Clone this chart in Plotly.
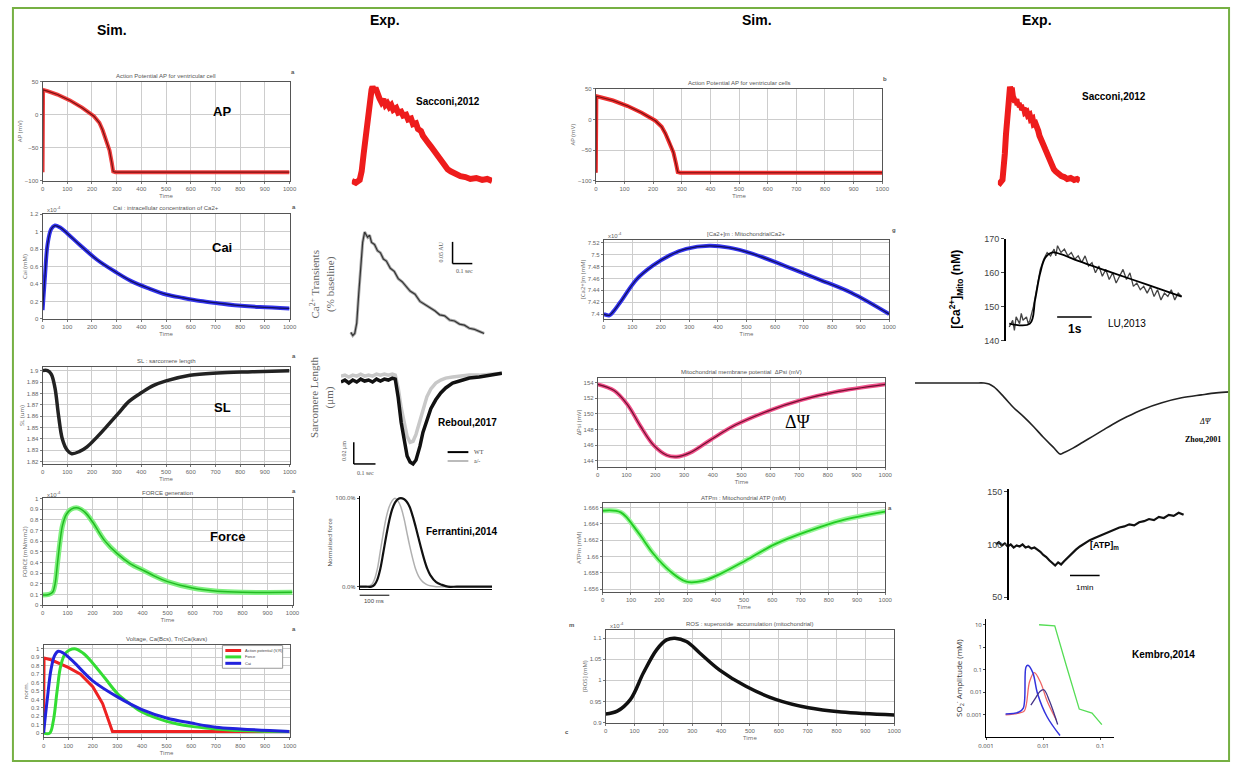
import plotly.graph_objects as go

W, H = 1240, 769

# ---------------- data ----------------
# simulated action potential (mV) vs time (ms)
ap_t = [0, 2, 20, 60, 111, 160, 208, 230, 243, 258, 271, 280, 286, 295, 1000]
ap_v = [-87, 38, 36, 31, 22, 11, -2, -12, -23, -38, -54, -72, -86, -87, -87]

# simulated cytosolic calcium (x1e-4 mM)
cai_t = [0, 10, 20, 35, 50, 70, 100, 150, 222, 300, 361, 430, 500, 570, 639, 710, 778, 880, 1000]
cai_v = [0.10, 0.50, 0.85, 1.03, 1.07, 1.05, 0.98, 0.85, 0.675, 0.53, 0.43, 0.35, 0.28, 0.24, 0.206, 0.18, 0.157, 0.135, 0.12]

# simulated sarcomere length (um)
sl_t = [0, 20, 35, 50, 65, 80, 100, 118, 150, 180, 222, 260, 305, 350, 403, 450, 500, 597, 708, 850, 1000]
sl_v = [1.900, 1.900, 1.897, 1.885, 1.860, 1.840, 1.830, 1.827, 1.829, 1.833, 1.842, 1.851, 1.862, 1.873, 1.881, 1.887, 1.891, 1.896, 1.898, 1.899, 1.900]

# simulated force (normalised units)
force_t = [0, 25, 40, 50, 60, 70, 80, 95, 115, 143, 170, 200, 250, 300, 350, 408, 450, 500, 600, 700, 800, 1000]
force_v = [0.095, 0.10, 0.12, 0.20, 0.40, 0.60, 0.75, 0.85, 0.90, 0.91, 0.87, 0.78, 0.60, 0.48, 0.39, 0.32, 0.27, 0.22, 0.16, 0.13, 0.12, 0.12]

# normalised overlay (voltage, force, Cai)
nv_t = [0, 2, 30, 100, 150, 200, 240, 265, 280, 1000]
nv_v = [0.0, 0.89, 0.87, 0.78, 0.70, 0.55, 0.35, 0.15, 0.02, 0.02]
nf_t = [0, 25, 40, 55, 70, 90, 125, 160, 200, 250, 300, 350, 400, 500, 600, 700, 800, 1000]
nf_v = [0.0, 0.0, 0.15, 0.50, 0.80, 0.95, 1.00, 0.95, 0.83, 0.65, 0.47, 0.35, 0.25, 0.14, 0.08, 0.05, 0.03, 0.02]
nc_t = [0, 15, 30, 45, 60, 80, 120, 200, 300, 400, 500, 600, 700, 800, 1000]
nc_v = [0.0, 0.40, 0.75, 0.92, 0.97, 0.95, 0.85, 0.62, 0.43, 0.28, 0.18, 0.12, 0.07, 0.05, 0.02]
overlay_names = ['Action potential (V,R)', 'Force', 'Cai']

# mitochondrial calcium (x1e-4 mM)
mca_t = [0, 20, 35, 58, 116, 173, 231, 289, 370, 439, 520, 636, 751, 867, 1000]
mca_v = [7.400, 7.398, 7.405, 7.420, 7.459, 7.482, 7.499, 7.510, 7.515, 7.512, 7.502, 7.481, 7.459, 7.436, 7.400]

# mitochondrial membrane potential (mV)
psi_t = [0, 57, 103, 149, 194, 240, 274, 320, 389, 480, 594, 709, 823, 1000]
psi_v = [153.8, 153.0, 151.2, 148.4, 146.0, 144.7, 144.5, 145.0, 146.6, 148.6, 150.4, 151.8, 152.8, 153.8]

# mitochondrial ATP (mM)
atpm_t = [0, 64, 122, 180, 238, 296, 355, 413, 506, 610, 727, 843, 1000]
atpm_v = [1.6656, 1.6654, 1.6631, 1.6603, 1.6582, 1.6569, 1.6570, 1.6578, 1.6595, 1.6615, 1.6631, 1.6644, 1.6655]

# mitochondrial superoxide (x1e-4 mM)
ros_t = [0, 40, 86, 131, 177, 211, 240, 280, 326, 394, 486, 589, 703, 817, 1000]
ros_v = [0.920, 0.927, 0.955, 1.018, 1.073, 1.096, 1.100, 1.092, 1.065, 1.025, 0.986, 0.955, 0.935, 0.925, 0.918]

# experimental: Sacconi 2012 optical AP (normalised)
sac_t = [0, 4, 8, 10, 12, 14, 16, 18, 20, 21, 23, 24, 26, 28, 30, 32, 34, 36, 38, 40, 42, 45, 47, 50, 52, 55, 57, 60,
         62, 65, 67, 70, 72, 75, 77, 80, 82, 85, 87, 90, 92, 95, 97, 100, 105, 110, 115, 120, 126, 132, 137, 142]
sac_v = [0.02, 0.00, 0.03, 0.12, 0.30, 0.50, 0.72, 0.88, 0.97, 1.00, 0.96, 0.99, 0.90, 0.88, 0.84, 0.87, 0.81, 0.83,
         0.79, 0.81, 0.76, 0.78, 0.73, 0.74, 0.70, 0.71, 0.66, 0.67, 0.61, 0.62, 0.56, 0.54, 0.49, 0.46, 0.42, 0.38,
         0.35, 0.30, 0.27, 0.23, 0.20, 0.17, 0.14, 0.12, 0.09, 0.07, 0.06, 0.04, 0.05, 0.03, 0.04, 0.02]

# experimental: Ca2+ transient (normalised)
cat_t = [0, 2, 4, 6, 8, 10, 12, 14, 15, 17, 19, 21, 24, 27, 30, 33, 36, 40, 44, 48, 52, 56, 60, 65, 70, 75, 80, 85, 90, 95,
         100, 105, 110, 115, 120, 125, 130, 135]
cat_v = [0.03, 0.00, 0.02, 0.12, 0.40, 0.70, 0.90, 1.00, 0.98, 0.95, 0.97, 0.90, 0.88, 0.82, 0.80, 0.74, 0.72, 0.65, 0.62,
         0.55, 0.52, 0.47, 0.43, 0.40, 0.33, 0.30, 0.27, 0.24, 0.20, 0.19, 0.15, 0.14, 0.11, 0.10, 0.07, 0.06, 0.04, 0.02]

# experimental: sarcomere length shortening (Reboul 2017)
sle_t = [0, 4, 8, 12, 16, 20, 24, 28, 32, 36, 40, 44, 48, 52, 55, 58, 61, 64, 67, 70, 73, 76, 80, 83, 87, 91, 96, 101,
         106, 113, 120, 130, 140, 150, 163]
sle_wt = [-9, -7, -10, -7, -9, -6, -8, -7, -9, -6, -8, -6, -7, -5, -6, -25, -50, -70, -84, -90, -92, -88, -74, -60, -47,
          -36, -27, -20, -15, -10, -8, -5, -4, -2, 0]
sle_ko = [-3, -2, -4, -2, -3, -1, -3, -2, -3, -1, -2, -1, -2, -1, -2, -15, -35, -52, -64, -70, -69, -62, -48, -35, -24,
          -16, -10, -7, -5, -4, -3, -2, -2, -1, 0]

# experimental: normalised force (Ferrantini 2014)
fer_t = [0, 20, 40, 50, 60, 70, 80, 90, 100, 110, 120, 130, 140, 150, 160, 170, 180, 190, 200, 210, 220, 230, 240, 260,
         280, 300, 330, 360, 400, 450]
fer_wt = [0, 0, 0, 0.02, 0.08, 0.20, 0.38, 0.57, 0.74, 0.87, 0.95, 0.99, 1.00, 0.99, 0.96, 0.90, 0.80, 0.68, 0.55, 0.42,
          0.30, 0.20, 0.13, 0.05, 0.02, 0, 0, 0, 0, 0]
fer_ko = [0, 0, 0.02, 0.08, 0.20, 0.40, 0.60, 0.78, 0.90, 0.97, 1.00, 0.97, 0.90, 0.78, 0.62, 0.46, 0.32, 0.20, 0.12,
          0.07, 0.04, 0.02, 0.01, 0, 0, 0, 0, 0, 0, 0]

# experimental: mitochondrial Ca2+ (Lu 2013), nM vs s
lu_t = [0.0, 0.1, 0.15, 0.2, 0.3, 0.35, 0.4, 0.5, 0.55, 0.6, 0.7, 0.8, 0.9, 1.0, 1.1, 1.2, 1.3, 1.35, 1.4, 1.5, 1.6, 1.7,
        1.8, 1.9, 2.0, 2.1, 2.2, 2.3, 2.4, 2.5, 2.6, 2.7, 2.8, 2.9, 3.0, 3.1, 3.2, 3.3, 3.4, 3.5, 3.6, 3.7, 3.8, 3.9, 4.0,
        4.1, 4.2, 4.3, 4.4, 4.5, 4.6, 4.7, 4.8, 4.9, 5.0]
lu_v = [144, 146, 143, 147, 145, 148, 146, 147, 145, 146, 150, 156, 161, 164, 166, 165, 167, 165, 168, 166, 167, 165, 166,
        164, 165, 163, 165, 162, 163, 160, 162, 159, 161, 158, 160, 157, 159, 161, 158, 160, 156, 157, 155, 156, 154, 156,
        153, 155, 152, 154, 153, 155, 152, 154, 153]
lu_fit_t = [0.0, 0.6, 0.75, 0.9, 1.05, 1.25, 1.5, 2.0, 3.0, 4.0, 5.0]
lu_fit_v = [145, 145, 152, 160, 164.5, 166, 165.5, 163.5, 160, 156.5, 153]

# experimental: membrane potential (Zhou 2001)
zh_t = [0, 30, 60, 70, 75, 80, 90, 100, 110, 120, 130, 140, 147, 150, 160, 170, 180, 190, 200, 215, 230, 250, 270, 290,
        305, 319]
zh_v = [0, 0, 0, 0, -1, -4, -14, -25, -34, -44, -55, -65, -72, -71, -66, -60, -54, -48, -42, -34, -27, -20, -15, -12,
        -10, -9]

# experimental: ATP (% baseline)
atpe_t = [5, 8, 11, 14, 17, 20, 23, 26, 29, 32, 35, 38, 41, 44, 47, 50, 53, 56, 59, 62, 65, 68, 71, 74, 77, 80, 83, 86,
          90, 95, 100, 105, 110, 115, 120, 125, 130, 135, 140, 145, 150, 155, 160, 165, 170, 175, 180, 185, 190, 195]
atpe_v = [100, 102, 99, 101, 98, 100, 97, 99, 98, 100, 97, 98, 96, 97, 95, 93, 90, 88, 85, 82, 80, 83, 81, 84, 87, 90, 93,
          95, 98, 101, 104, 106, 108, 110, 112, 114, 116, 117, 119, 118, 121, 122, 124, 123, 126, 125, 128, 127, 130, 128]

# experimental: superoxide amplitude vs frequency (Kembro 2014), log-log
kg_x = [0.0085, 0.016, 0.026, 0.043, 0.072, 0.107]
kg_y = [10, 9, 0.13, 0.0018, 0.0012, 0.00037]
kb_x = [0.0022, 0.0037, 0.0045, 0.005, 0.0054, 0.0066, 0.008, 0.0118, 0.0198]
kb_y = [0.0011, 0.0013, 0.002, 0.13, 0.16, 0.075, 0.0087, 0.0008, 0.00012]
kr_x = [0.0022, 0.0038, 0.0047, 0.0058, 0.007, 0.009, 0.0118, 0.017]
kr_y = [0.0010, 0.0012, 0.0015, 0.03, 0.075, 0.028, 0.004, 0.0006]
kp_x = [0.0061, 0.0075, 0.0088, 0.0103, 0.013, 0.018]
kp_y = [0.0027, 0.006, 0.011, 0.013, 0.004, 0.00037]

# ---------------- helpers ----------------
fig = go.Figure()
layout = {}
annots = []
shapes = []


def PX(px):
    return px / W


def PY(py):
    return 1 - py / H


def names(n):
    if n == 1:
        return 'xaxis', 'yaxis', 'x', 'y'
    return f'xaxis{n}', f'yaxis{n}', f'x{n}', f'y{n}'


TICKF = dict(size=6, color='#666', family='Liberation Sans')


def text(px, py, s, size=10, bold=True, family='Liberation Sans', color='black', angle=0, anchor='center'):
    if bold:
        s = '<b>' + s + '</b>'
    annots.append(dict(x=PX(px), y=PY(py), xref='paper', yref='paper', text=s, showarrow=False,
                       textangle=angle, xanchor=anchor, yanchor='middle',
                       font=dict(size=size, family=family, color=color)))


def sim_panel(n, box, xr, yr, ydtick, title, ylab, xdtick=100, expo=False):
    x0, y0, x1, y1 = box
    xa, ya, xk, yk = names(n)
    base = dict(showline=True, linecolor='#555', linewidth=1, mirror=True, ticks='outside', ticklen=2,
                tickcolor='#777', tickfont=TICKF, zeroline=False, showgrid=True, gridcolor='#cdcdcd',
                gridwidth=1, fixedrange=True)
    layout[xa] = dict(base, domain=[PX(x0), PX(x1)], range=xr, dtick=xdtick, anchor=yk,
                      title=dict(text='Time', font=dict(size=6, color='#666'), standoff=1))
    yd = dict(base, domain=[PY(y1), PY(y0)], range=yr, dtick=ydtick, anchor=xk)
    if ylab:
        yd['title'] = dict(text=ylab, font=dict(size=6, color='#666'), standoff=1)
    layout[ya] = yd
    text((x0 + x1) / 2, y0 - 6, title, 6, bold=False, color='#555')
    if expo:
        text(x0 + 2, y0 - 5, 'x10<sup>-4</sup>', 6, bold=False, color='#666', anchor='left')


def hidden_panel(n, box, xr, yr):
    x0, y0, x1, y1 = box
    xa, ya, xk, yk = names(n)
    layout[xa] = dict(domain=[PX(x0), PX(x1)], range=xr, visible=False, anchor=yk, fixedrange=True)
    layout[ya] = dict(domain=[PY(y1), PY(y0)], range=yr, visible=False, anchor=xk, fixedrange=True)


def line(n, x, y, color, width, shape='spline', opacity=1.0):
    xa, ya, xk, yk = names(n)
    fig.add_trace(go.Scatter(x=x, y=y, xaxis=xk, yaxis=yk, mode='lines', showlegend=False,
                             opacity=opacity, line=dict(color=color, width=width, shape=shape)))


def seg(x0, y0, x1, y1, color='black', width=1.5):
    shapes.append(dict(type='line', xref='paper', yref='paper', x0=PX(x0), y0=PY(y0), x1=PX(x1), y1=PY(y1),
                       line=dict(color=color, width=width)))


# ---------------- simulated panels ----------------
sim_panel(1, (35, 78, 285, 178), [0, 1000], [-100, 50], 50, 'Action Potential AP for ventricular cell', 'AP (mV)')
line(1, ap_t, ap_v, '#f04040', 4, shape='linear')
line(1, ap_t, ap_v, '#7a1010', 1.2, shape='linear')

sim_panel(2, (35, 212, 285, 318), [0, 1000], [0, 1.2], 0.2, 'Cai : intracellular concentration of Ca2+', 'Cai (mM)', expo=True)
line(2, cai_t, cai_v, '#3333ee', 4)
line(2, cai_t, cai_v, '#101060', 1.2)

sim_panel(3, (35, 367, 285, 465), [0, 1000], [1.818, 1.903], 0.01, 'SL : sarcomere length', 'SL (um)')
line(3, sl_t, sl_v, '#222222', 3.5)

sim_panel(4, (35, 500, 288, 608), [0, 1000], [0.0, 1.0], 0.1, 'FORCE generation', 'FORCE (mN/mm2)', expo=True)
line(4, force_t, force_v, '#7ef07e', 5)
line(4, force_t, force_v, '#22bb22', 1.5)

sim_panel(5, (36, 648, 285, 742), [0, 1000], [-0.05, 1.05], 0.1, 'Voltage, Ca(Bcs), Tn(Ca(kavs)', 'norm.')
line(5, nv_t, nv_v, '#ee2222', 3, shape='linear')
line(5, nf_t, nf_v, '#33dd33', 3)
line(5, nc_t, nc_v, '#2222dd', 3)
# small legend box drawn by hand
shapes.append(dict(type='rect', xref='paper', yref='paper', x0=PX(217), y0=PY(672), x1=PX(278), y1=PY(649),
                   fillcolor='white', line=dict(color='#999', width=1), layer='above'))
for i, (nm, col) in enumerate(zip(overlay_names, ['#ee2222', '#33dd33', '#2222dd'])):
    seg(220, 654 + 6.5 * i, 236, 654 + 6.5 * i, col, 3)
    text(238, 654 + 6.5 * i, nm, 4, bold=False, color='#444', anchor='left')

sim_panel(6, (595, 85, 885, 178), [0, 1000], [-100, 50], 50, 'Action Potential AP for ventricular cells', 'AP (mV)')
line(6, ap_t, ap_v, '#f03030', 4, shape='linear')
line(6, ap_t, ap_v, '#7a1010', 1.2, shape='linear')

sim_panel(7, (603, 238, 892, 318), [0, 1000], [7.392, 7.525], 0.02, '[Ca2+]m : MitochondrialCa2+', '[Ca2+]m (mM)', expo=True)
line(7, mca_t, mca_v, '#3333ee', 4)
line(7, mca_t, mca_v, '#101060', 1.2)

sim_panel(8, (597, 378, 888, 468), [0, 1000], [143.2, 154.6], 2, 'Mitochondrial membrane potential  \u0394Psi (mV)', '\u0394Psi (mV)')
line(8, psi_t, psi_v, '#f0508a', 4)
line(8, psi_t, psi_v, '#701030', 1.2)

sim_panel(9, (602, 505, 888, 595), [0, 1000], [1.6556, 1.6665], 0.002, 'ATPm : Mitochondrial ATP (mM)', 'ATPm (mM)')
line(9, atpm_t, atpm_v, '#9af59a', 5)
line(9, atpm_t, atpm_v, '#22cc22', 1.8)

sim_panel(10, (605, 633, 897, 727), [0, 1000], [0.9, 1.12], 0.05, 'ROS : superoxide  accumulation (mitochondrial)', '[ROS] (mM)', expo=True)
line(10, ros_t, ros_v, '#111111', 3.5)

# ---------------- experimental panels ----------------
hidden_panel(11, (348, 78, 490, 185), [0, 142], [-0.05, 1.05])
line(11, sac_t, sac_v, '#ee1c1c', 6, shape='linear')

hidden_panel(12, (345, 228, 485, 338), [-2, 138], [-0.03, 1.02])
line(12, cat_t, cat_v, '#aaaaaa', 3, shape='linear')
line(12, cat_t, cat_v, '#333333', 1.2, shape='linear')

hidden_panel(13, (337, 365, 500, 470), [0, 163], [-97, 8])
line(13, sle_t, sle_ko, '#c8c8c8', 3.5, shape='linear')
line(13, sle_t, sle_wt, '#111111', 3.5, shape='linear')

xa, ya, xk, yk = names(14)
layout[xa] = dict(domain=[PX(356), PX(490)], range=[0, 450], anchor=yk, showline=True, linecolor='black',
                  linewidth=1, showticklabels=False, ticks='', showgrid=False, zeroline=False, fixedrange=True)
layout[ya] = dict(domain=[PY(592), PY(497)], range=[-0.03, 1.03], anchor=xk, showline=True, linecolor='black',
                  linewidth=1, tickvals=[0, 1], ticktext=['0.0%', '100.0%'], ticks='outside', ticklen=2,
                  tickfont=dict(size=6, color='#444'), showgrid=False, zeroline=False, fixedrange=True,
                  title=dict(text='Normalised force', font=dict(size=6, color='#444'), standoff=2))
line(14, fer_t, fer_ko, '#b0b0b0', 1.5)
line(14, fer_t, fer_wt, '#111111', 2.2)

hidden_panel(15, (1002, 78, 1085, 185), [0, 142], [-0.05, 1.05])
line(15, sac_t, sac_v, '#ee1c1c', 6, shape='linear')

xa, ya, xk, yk = names(16)
layout[xa] = dict(domain=[PX(1010), PX(1195)], range=[-0.1, 5.2], anchor=yk, visible=False, fixedrange=True)
layout[ya] = dict(domain=[PY(340), PY(237)], range=[140, 170], anchor=xk, showline=True, linecolor='black',
                  linewidth=1.5, tickvals=[140, 150, 160, 170], ticks='outside', ticklen=3,
                  tickfont=dict(size=9, color='#444', family='Liberation Sans'), showgrid=False, zeroline=False,
                  fixedrange=True)
line(16, lu_t, lu_v, '#444444', 1.3, shape='linear')
line(16, lu_fit_t, lu_fit_v, '#000000', 1.8)

hidden_panel(17, (918, 375, 1237, 460), [0, 319], [-77, 8])
line(17, zh_t, zh_v, '#222222', 1.6)

xa, ya, xk, yk = names(18)
layout[xa] = dict(domain=[PX(995), PX(1195)], range=[0, 200], anchor=yk, visible=False, fixedrange=True)
layout[ya] = dict(domain=[PY(603), PY(490)], range=[47.2, 152.8], anchor='free', position=PX(1012),
                  showline=True, linecolor='black', linewidth=1.5, tickvals=[50, 100, 150], ticks='outside',
                  ticklen=3, tickfont=dict(size=9, color='#444', family='Liberation Sans'), showgrid=False,
                  zeroline=False, fixedrange=True)
line(18, atpe_t, atpe_v, '#111111', 2.2, shape='linear')

xa, ya, xk, yk = names(19)
layout[xa] = dict(domain=[PX(990), PX(1120)], type='log', range=[-3.0, -0.75], anchor=yk, showline=True,
                  linecolor='black', linewidth=1, tickvals=[0.001, 0.01, 0.1], ticktext=['0.001', '0.01', '0.1'],
                  ticks='outside', ticklen=2, tickfont=dict(size=6, color='#444'), showgrid=False, zeroline=False,
                  fixedrange=True)
layout[ya] = dict(domain=[PY(742), PY(622)], type='log', range=[-4.0, 1.26], anchor=xk, showline=True,
                  linecolor='black', linewidth=1, tickvals=[0.001, 0.01, 0.1, 1, 10],
                  ticktext=['0.001', '0.01', '0.1', '1', '10'], ticks='outside', ticklen=2,
                  tickfont=dict(size=6, color='#444'), showgrid=False, zeroline=False, fixedrange=True,
                  title=dict(text='SO<sub>2</sub><sup>-</sup> Amplitude (mM)', font=dict(size=8, color='#333'),
                             standoff=2))
line(19, kg_x, kg_y, '#55dd55', 1.3, shape='linear')
line(19, kr_x, kr_y, '#ee6666', 1.3)
line(19, kb_x, kb_y, '#3333dd', 1.5)
line(19, kp_x, kp_y, '#443388', 1.3)

# ---------------- texts ----------------
text(105, 25, 'Sim.', 14)
text(382, 15, 'Exp.', 14)
text(758, 15, 'Sim.', 14)
text(1042, 15, 'Exp.', 14)

text(217, 108, 'AP', 13)
text(217, 246, 'Cai', 13)
text(217, 408, 'SL', 13)
text(222, 538, 'Force', 13)
text(288, 68, 'a', 6, color='#555')
text(289, 205, 'a', 6, color='#555')
text(289, 356, 'a', 6, color='#555')
text(289, 492, 'a', 6, color='#555')
text(289, 632, 'a', 6, color='#555')
text(888, 75, 'b', 6, color='#555')
text(897, 228, 'g', 6, color='#555')
text(893, 510, 'a', 6, color='#555')
text(570, 628, 'm', 6, color='#555')
text(566, 737, 'c', 6, color='#555')

text(445, 98, 'Sacconi,2012', 10)
text(1120, 93, 'Sacconi,2012', 10)
text(465, 423, 'Reboul,2017', 10)
text(460, 533, 'Ferrantini,2014', 10)
text(1133, 323, 'LU,2013', 10, bold=False)
text(1210, 440, 'Zhou,2001', 8, family='Liberation Serif')
text(1212, 422, '<i>\u0394\u03a8</i>', 8, bold=False, family='Liberation Serif')
text(1110, 548, '[ATP]<sub>m</sub>', 9)
text(1170, 658, 'Kembro,2014', 10)
text(800, 423, '\u0394\u03a8', 18, bold=False, family='Liberation Serif')

text(318, 283, 'Ca<sup>2+</sup> Transients<br>(% baseline)', 11, bold=False, family='Liberation Serif',
     color='#666', angle=-90)
text(318, 398, 'Sarcomere Length<br>(\u03bcm)', 11, bold=False, family='Liberation Serif', color='#666', angle=-90)
text(438, 250, '0.05 AU', 6, bold=False, family='Liberation Serif', color='#555', angle=-90)
text(462, 270, '0.1 sec', 6, bold=False, family='Liberation Serif', color='#555')
text(340, 452, '0.02 \u03bcm', 6, bold=False, family='Liberation Serif', color='#555', angle=-90)
text(362, 474, '0.1 sec', 6, bold=False, family='Liberation Serif', color='#555')
text(470, 453, 'WT', 6, bold=False, family='Liberation Serif', color='#444', anchor='left')
text(470, 462, 'a/-', 6, bold=False, family='Liberation Serif', color='#444', anchor='left')
text(370, 604, '100 ms', 6, bold=False, color='#444')
text(960, 288, '[Ca<sup>2+</sup>]<sub>Mito</sub> (nM)', 12, angle=-90)
text(1080, 328, '1s', 12)
text(1090, 590, '1min', 8, bold=False)

# scale bars / legend marks
seg(450, 240, 450, 262)
seg(450, 262, 470, 262)
seg(350, 443, 350, 465)
seg(350, 465, 372, 465)
seg(445, 453, 466, 453, 'black', 2)
seg(445, 462, 466, 462, '#bbbbbb', 2)
seg(356, 598, 386, 598, 'black', 1)
seg(1062, 316, 1097, 316, 'black', 1.5)
seg(1075, 578, 1105, 578, 'black', 1.5)

# green frame
shapes.append(dict(type='rect', xref='paper', yref='paper', x0=PX(5), y0=PY(766), x1=PX(1236), y1=PY(3),
                   line=dict(color='#76b043', width=2)))

fig.update_layout(
    width=W, height=H, margin=dict(l=0, r=0, t=0, b=0),
    paper_bgcolor='white', plot_bgcolor='white',
    annotations=annots, shapes=shapes, showlegend=False,
    **layout
)
fig.write_html('out.html', config={'displayModeBar': False},
               post_script="document.body.style.margin='0px';document.body.style.overflow='hidden';")
